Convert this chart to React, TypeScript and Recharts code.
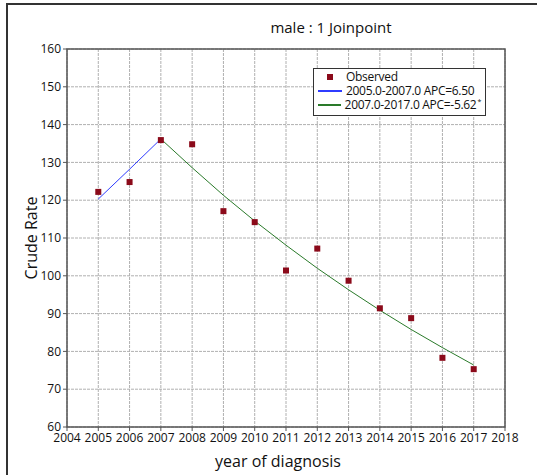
import React from 'react';
import {
  ComposedChart,
  Line,
  Scatter,
  XAxis,
  YAxis,
  CartesianGrid,
  ReferenceArea,
} from 'recharts';

const years = [2005, 2006, 2007, 2008, 2009, 2010, 2011, 2012, 2013, 2014, 2015, 2016, 2017];
const observed = [122.2, 124.8, 135.9, 134.8, 117.1, 114.2, 101.4, 107.2, 98.7, 91.4, 88.8, 78.3, 75.3];
// fitted segments, null outside the segment
const seg1 = [120.3, 128.2, 136.2, null, null, null, null, null, null, null, null, null, null];
const seg2 = [null, null, 136.2, 128.6, 121.3, 114.5, 108.1, 102.0, 96.3, 90.9, 85.8, 81.0, 76.4];

const xTicks = [2004, 2005, 2006, 2007, 2008, 2009, 2010, 2011, 2012, 2013, 2014, 2015, 2016, 2017, 2018];
const yTicks = [60, 70, 80, 90, 100, 110, 120, 130, 140, 150, 160];

const seg1Label = '2005.0-2007.0 APC=6.50';
const seg2Label = '2007.0-2017.0 APC=-5.62';

const data = years.map((y, i) => ({
  year: y,
  observed: observed[i],
  seg1: seg1[i],
  seg2: seg2[i],
}));

const FONT = "'Open Sans', 'Noto Sans', sans-serif";
const MARK = '#8b0a1a';
const BLUE = '#2f3cff';
const GREEN = '#2a7a2a';

const Square = (p: any) => <rect x={p.cx - 3} y={p.cy - 3} width={6} height={6} fill={MARK} />;

const row: React.CSSProperties = { display: 'flex', alignItems: 'center', whiteSpace: 'nowrap', height: 14 };

const LegendBox = () => (
  <div
    style={{
      position: 'absolute',
      left: 313,
      top: 68,
      width: 173,
      height: 48,
      border: '1.5px solid #333',
      background: '#fff',
      fontFamily: FONT,
      fontSize: 12,
      letterSpacing: -0.3,
      color: '#111',
      padding: '1px 4px 0 4px',
      lineHeight: '14px',
      boxSizing: 'border-box',
    }}
  >
    <div style={row}>
      <span style={{ width: 24, display: 'inline-flex', justifyContent: 'center', marginRight: 4 }}>
        <span style={{ width: 6, height: 6, background: MARK, display: 'inline-block' }} />
      </span>
      Observed
    </div>
    <div style={row}>
      <span style={{ width: 24, height: 2, background: BLUE, display: 'inline-block', marginRight: 4 }} />
      {seg1Label}
    </div>
    <div style={row}>
      <span style={{ width: 24, height: 2, background: GREEN, display: 'inline-block', marginRight: 4 }} />
      {seg2Label}
      <span style={{ fontSize: 7, marginLeft: 1, alignSelf: 'flex-start', lineHeight: '8px' }}>*</span>
    </div>
  </div>
);

export default function App() {
  return (
    <div style={{ position: 'absolute', left: 0, top: 0, width: 537, height: 475, background: '#fff' }}>
      <div style={{ position: 'absolute', left: 6, top: 3, width: 531, height: 472, borderTop: '2px solid #333', borderLeft: '2px solid #333' }} />
      <div
        style={{
          position: 'absolute',
          left: 231,
          width: 200,
          top: 17,
          textAlign: 'center',
          fontFamily: FONT,
          fontSize: 15,
          color: '#111',
        }}
      >
        male : 1 Joinpoint
      </div>
      <ComposedChart width={537} height={475} data={data} margin={{ top: 49, right: 32, left: 7, bottom: 18 }}>
        <CartesianGrid stroke="#b0b0b0" strokeDasharray="3 1" />
        <XAxis
          dataKey="year"
          type="number"
          domain={[2004, 2018]}
          ticks={xTicks}
          interval={0}
          height={30}
          tickSize={4}
          axisLine={false}
          tickLine={{ stroke: '#555' }}
          tick={{ fontSize: 12, fill: '#111', fontFamily: FONT }}
          label={{ value: 'year of diagnosis', position: 'bottom', offset: -1, dx: -8, fontSize: 16, fill: '#111', fontFamily: FONT }}
        />
        <YAxis
          type="number"
          domain={[60, 160]}
          ticks={yTicks}
          interval={0}
          width={60}
          tickSize={4}
          axisLine={false}
          tickLine={{ stroke: '#555' }}
          tick={{ fontSize: 12, fill: '#111', fontFamily: FONT }}
          label={{ value: 'Crude Rate', angle: -90, position: 'center', dx: -6, fontSize: 16, fill: '#111', fontFamily: FONT }}
        />
        <ReferenceArea x1={2004} x2={2018} y1={60} y2={160} fill="none" stroke="#555" strokeWidth={1.5} />
        <Line dataKey="seg1" stroke={BLUE} strokeWidth={1} dot={false} isAnimationActive={false} connectNulls={false} />
        <Line dataKey="seg2" stroke={GREEN} strokeWidth={1} dot={false} isAnimationActive={false} connectNulls={false} />
        <Scatter dataKey="observed" shape={Square} isAnimationActive={false} />
      </ComposedChart>
      <LegendBox />
    </div>
  );
}
